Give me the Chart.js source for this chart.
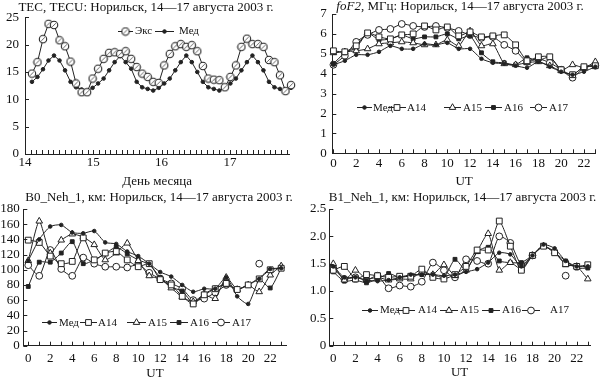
<!DOCTYPE html>
<html><head><meta charset="utf-8">
<script src="https://cdn.jsdelivr.net/npm/chart.js@4.4.1/dist/chart.umd.min.js"></script>
<style>
html,body{margin:0;padding:0;background:#fff;}
body{width:601px;height:382px;position:relative;overflow:hidden;}
canvas{position:absolute;display:block;}
</style></head><body>
<canvas id="c1" width="300" height="190" style="left:0;top:0"></canvas>
<canvas id="c2" width="301" height="190" style="left:300px;top:0"></canvas>
<canvas id="c3" width="300" height="192" style="left:0;top:190px"></canvas>
<canvas id="c4" width="301" height="192" style="left:300px;top:190px"></canvas>
<script>
// ---------- DATA ----------
const tecDayTicks = [14, 15, 16, 17];
const tecExc = [14.7,16.8,21.0,23.8,23.6,20.8,19.7,16.9,12.9,11.3,11.3,13.8,15.6,17.4,18.5,18.6,18.3,18.8,17.4,15.9,14.7,14.1,13.2,13.0,16.2,18.3,19.7,20.1,19.6,19.9,18.8,16.1,13.8,13.6,13.5,12.2,14.1,16.2,19.6,21.1,20.1,20.1,19.6,17.2,16.8,14.4,11.5,12.6];
const tecMed = [13.2,14.1,15.5,17.1,18.0,17.1,15.3,13.2,12.2,11.8,11.5,12.1,12.9,13.8,15.3,16.8,17.9,16.8,15.6,13.2,12.2,11.9,11.6,12.1,12.9,13.8,15.3,16.8,18.0,16.8,15.0,13.2,12.2,11.9,11.6,12.1,12.9,13.8,15.3,16.8,18.0,16.8,15.3,13.2,12.2,11.9,11.6,12.1];
const TEC_T0 = 14.102, TEC_DT = 0.0807; // sampling: start day and step (days)

const utHours = [0,1,2,3,4,5,6,7,8,9,10,11,12,13,14,15,16,17,18,19,20,21,22,23];
const utTickLabels = [0,2,4,6,8,10,12,14,16,18,20,22];
const seriesNames = ['Мед','A14','A15','A16','A17'];

const fof2Med = [4.45,4.65,4.95,4.95,5.1,5.4,5.25,5.25,5.5,5.45,5.55,5.25,5.25,4.75,4.55,4.5,4.4,4.3,4.6,4.35,4.1,3.95,4.1,4.35];
const fof2A14 = [5.15,5.1,5.4,6.05,5.85,5.75,5.95,6.0,6.4,6.2,6.35,5.9,6.1,5.85,5.9,5.95,5.45,4.65,4.85,4.85,4.2,3.95,4.35,4.4];
const fof2A15 = [5.05,5.1,5.15,5.25,5.5,5.55,5.6,5.55,5.45,5.45,5.7,5.4,6.15,5.4,5.5,4.5,4.45,4.55,4.6,4.4,4.15,4.45,4.3,4.6];
const fof2A16 = [4.5,5.05,5.3,6.05,5.7,5.75,5.95,5.75,5.85,5.85,6.0,5.75,5.9,5.05,4.6,4.55,4.45,4.8,4.65,4.85,4.15,3.95,4.35,4.4];
const fof2A17 = [4.45,4.9,5.6,5.95,6.2,6.25,6.5,6.4,6.35,6.4,6.3,6.15,5.95,5.8,5.85,5.45,5.15,4.6,4.75,4.55,4.2,3.8,4.3,4.4];

const b0Med = [112,140,157,159,149,148,151,136,134,124,118,108,97,91,80,71,75,75,90,65,55,88,101,102];
const b0A14 = [139,136,118,108,111,142,113,122,124,113,104,108,87,80,65,55,67,75,82,74,80,88,100,102];
const b0A15 = [112,164,122,139,147,143,133,113,122,135,112,92,88,76,64,58,67,62,90,74,80,71,93,105];
const b0A16 = [78,110,110,122,137,108,113,121,130,121,113,107,90,77,72,56,68,76,80,74,80,88,76,102];
const b0A17 = [106,92,126,101,92,116,108,104,104,103,107,96,88,82,75,60,62,70,80,null,null,108,null,null];

const b1Med = [1.45,1.25,1.25,1.2,1.18,1.2,1.25,1.3,1.3,1.3,1.28,1.3,1.35,1.4,1.52,1.7,1.67,1.45,1.65,1.85,1.78,1.55,1.45,1.45];
const b1A14 = [1.38,1.45,1.22,1.3,1.28,1.25,1.27,1.27,1.4,1.25,1.22,1.3,1.45,1.75,1.75,2.28,1.82,1.38,1.65,1.82,1.7,1.5,1.45,1.48];
const b1A15 = [1.5,1.2,1.38,1.22,1.25,1.2,1.22,1.22,1.35,1.3,1.48,1.28,1.38,1.72,2.05,1.38,1.52,1.4,1.65,1.82,1.72,1.48,1.45,1.22];
const b1A16 = [1.35,1.18,1.2,1.15,1.22,1.32,1.25,1.28,1.3,1.3,1.25,1.58,1.38,1.72,1.8,1.55,1.52,1.52,1.65,1.82,1.7,1.55,1.42,1.42];
const b1A17 = [1.42,1.22,1.25,1.2,1.28,1.05,1.1,1.08,1.17,1.52,1.38,1.25,1.58,1.55,1.5,2.0,1.88,1.48,1.65,null,null,1.28,null,null];

// ---------- STYLE ----------
const INK = '#222';
const TXT = '#111';
const FAM = "'Liberation Serif','Times New Roman',serif";
const tickFont = {family: FAM, size: 13};
const legendFont = "11px " + FAM;

function excMarker() {
  const c = document.createElement('canvas'); c.width = 10; c.height = 10;
  const g = c.getContext('2d');
  g.beginPath(); g.arc(5, 5, 3.7, 0, Math.PI * 2);
  g.fillStyle = '#fff'; g.fill(); g.lineWidth = 1.1; g.strokeStyle = INK; g.stroke();
  g.beginPath(); g.moveTo(3.2, 6.8); g.lineTo(6.8, 3.2); g.lineWidth = 0.9; g.strokeStyle = '#555'; g.stroke();
  return c;
}
const EXC_PT = excMarker();

const markerStyles = [
  {pointStyle: 'circle', pointRadius: 1.8, pointBackgroundColor: INK},
  {pointStyle: 'rect', pointRadius: 4.1, pointBackgroundColor: '#fff'},
  {pointStyle: 'triangle', pointRadius: 3.8, pointBackgroundColor: '#fff'},
  {pointStyle: 'rect', pointRadius: 2.7, pointBackgroundColor: INK},
  {pointStyle: 'circle', pointRadius: 3.4, pointBackgroundColor: '#fff'}
];

function drawMarker(ctx, ds, x, y) {
  const st = ds.pointStyle, r = ds.pointRadius;
  if (st instanceof HTMLCanvasElement) { ctx.drawImage(st, x - st.width / 2, y - st.height / 2); return; }
  ctx.beginPath();
  if (st === 'circle') ctx.arc(x, y, r, 0, Math.PI * 2);
  else if (st === 'rect') { const s = r * Math.SQRT1_2; ctx.rect(x - s, y - s, 2 * s, 2 * s); }
  else if (st === 'triangle') { ctx.moveTo(x, y - r); ctx.lineTo(x + r * 0.866, y + r / 2); ctx.lineTo(x - r * 0.866, y + r / 2); ctx.closePath(); }
  ctx.fillStyle = ds.pointBackgroundColor; ctx.fill();
  ctx.lineWidth = ds.pointBorderWidth || 1; ctx.strokeStyle = ds.pointBorderColor || INK; ctx.stroke();
}

// ---------- PLUGINS ----------
function titlePlugin(parts, cx, y) {
  return {
    id: 'panelTitle',
    afterDraw(chart) {
      const ctx = chart.ctx; ctx.save(); ctx.fillStyle = TXT; ctx.textBaseline = 'middle'; ctx.textAlign = 'left';
      const widths = parts.map(p => { ctx.font = p.font; return ctx.measureText(p.text).width; });
      let x = cx - widths.reduce((a, b) => a + b, 0) / 2;
      parts.forEach((p, i) => { ctx.font = p.font; ctx.fillText(p.text, x, y); x += widths[i]; });
      ctx.restore();
    }
  };
}
function inTicksPlugin(len) {
  return {
    id: 'inTicks',
    afterDraw(chart) {
      const ctx = chart.ctx, a = chart.chartArea, xs = chart.scales.x, ys = chart.scales.y;
      ctx.save(); ctx.strokeStyle = INK; ctx.lineWidth = 1; ctx.beginPath();
      xs.ticks.forEach(t => { const p = Math.round(xs.getPixelForValue(t.value)) + 0.5; ctx.moveTo(p, a.bottom); ctx.lineTo(p, a.bottom - len); });
      ys.ticks.forEach(t => { const p = Math.round(ys.getPixelForValue(t.value)) + 0.5; ctx.moveTo(a.left, p); ctx.lineTo(a.left + len, p); });
      ctx.stroke(); ctx.restore();
    }
  };
}
function legendPlugin(y, items) {
  return {
    id: 'inLegend',
    afterDraw(chart) {
      const ctx = chart.ctx; ctx.save();
      items.forEach(it => {
        const ds = chart.data.datasets[it.ds];
        ctx.strokeStyle = INK; ctx.lineWidth = 1;
        ctx.beginPath(); ctx.moveTo(it.x0, Math.round(y) + 0.5); ctx.lineTo(it.x1, Math.round(y) + 0.5); ctx.stroke();
        drawMarker(ctx, ds, (it.x0 + it.x1) / 2, Math.round(y) + 0.5);
        ctx.fillStyle = TXT; ctx.font = legendFont; ctx.textBaseline = 'middle'; ctx.textAlign = 'left';
        ctx.fillText(ds.label, it.tx, y + 0.5);
      });
      ctx.restore();
    }
  };
}

function yScale(min, max, step, width, pad, cb) {
  const ticks = {stepSize: step, padding: pad, font: tickFont, color: TXT, autoSkip: false};
  if (cb) ticks.callback = cb;
  return {
    min, max, ticks,
    grid: {display: false, drawTicks: false},
    border: {display: true, color: INK, width: 1},
    afterFit: s => { s.width = width; }
  };
}
function xUTScale(min, max, height, pad, tpad) {
  return {
    type: 'linear', min, max,
    afterBuildTicks: s => { s.ticks = utHours.map(v => ({value: v})); },
    ticks: {autoSkip: false, maxRotation: 0, padding: pad, font: tickFont, color: TXT,
      callback: v => utTickLabels.includes(v) ? String(v) : ''},
    grid: {display: false, drawTicks: false},
    border: {display: true, color: INK, width: 1},
    title: {display: true, text: 'UT', font: tickFont, color: TXT, padding: {top: 0, bottom: tpad}},
    afterFit: s => { s.height = height; }
  };
}
function utDatasets(arrs) {
  return arrs.map((arr, i) => Object.assign({
    label: seriesNames[i],
    data: arr.map((v, k) => ({x: utHours[k], y: v})),
    borderColor: INK, borderWidth: 1, pointBorderColor: INK, pointBorderWidth: 1,
    tension: 0.2, clip: false, spanGaps: false
  }, markerStyles[i]));
}
const baseOpts = {responsive: false, animation: false, devicePixelRatio: 1, events: [],
  plugins: {legend: {display: false}, tooltip: {enabled: false}, title: {display: false}}};

// ---------- PANEL 1: TEC ----------
const tecTickVals = [];
for (let k = 0; k * (1 / 12) <= 3.86; k++) tecTickVals.push(14 + k / 12);
new Chart(document.getElementById('c1'), {
  type: 'line',
  data: {datasets: [
    {label: 'Экс', data: tecExc.map((v, i) => ({x: TEC_T0 + i * TEC_DT, y: v})),
     borderColor: INK, borderWidth: 1, pointStyle: EXC_PT, pointRadius: 4, tension: 0, clip: false},
    {label: 'Мед', data: tecMed.map((v, i) => ({x: TEC_T0 + i * TEC_DT, y: v})),
     borderColor: INK, borderWidth: 1, pointStyle: 'circle', pointRadius: 1.8, pointBackgroundColor: INK,
     pointBorderColor: INK, pointBorderWidth: 1, tension: 0, clip: false}
  ]},
  options: Object.assign({}, baseOpts, {
    layout: {padding: {left: 0, top: 17.3, right: 10.7, bottom: 0}},
    scales: {
      x: {type: 'linear', min: 14, max: 17.87,
        afterBuildTicks: s => { s.ticks = tecTickVals.map(v => ({value: v})); },
        ticks: {autoSkip: false, maxRotation: 0, padding: 1.2, font: tickFont, color: TXT,
          callback: v => { const r = Math.round(v); return (Math.abs(v - r) < 1e-6 && tecDayTicks.includes(r)) ? String(r) : ''; }},
        grid: {display: false, drawTicks: false},
        border: {display: true, color: INK, width: 1},
        title: {display: true, text: 'День месяца', font: tickFont, color: TXT, padding: {top: 0, bottom: 0.5}},
        afterFit: s => { s.height = 36; }},
      y: yScale(0, 25, 5, 25, 6)
    }
  }),
  plugins: [
    titlePlugin([{text: 'TEC, TECU: Норильск, 14—17 августа 2003 г.', font: '13px ' + FAM}], 146, 7.3),
    inTicksPlugin(4),
    legendPlugin(31, [{ds: 0, x0: 118, x1: 133, tx: 135}, {ds: 1, x0: 155, x1: 174, tx: 179}])
  ]
});

// ---------- PANEL 2: foF2 ----------
new Chart(document.getElementById('c2'), {
  type: 'line',
  data: {datasets: utDatasets([fof2Med, fof2A14, fof2A15, fof2A16, fof2A17])},
  options: Object.assign({}, baseOpts, {
    layout: {padding: {left: 0, top: 14, right: 2.7, bottom: 0}},
    scales: {x: xUTScale(-0.1, 23.05, 36.7, 2.2, 0.5), y: yScale(0, 7, 1, 32.3, 5.5)}
  }),
  plugins: [
    titlePlugin([{text: 'foF2', font: 'italic 13px ' + FAM}, {text: ', МГц: Норильск, 14—17 августа 2003 г.', font: '13px ' + FAM}], 160, 6.7),
    inTicksPlugin(4),
    legendPlugin(107.3, [
      {ds: 0, x0: 57, x1: 72, tx: 73}, {ds: 1, x0: 88, x1: 106, tx: 107},
      {ds: 2, x0: 144, x1: 161, tx: 163}, {ds: 3, x0: 185, x1: 202, tx: 204},
      {ds: 4, x0: 230, x1: 247, tx: 249}])
  ]
});

// ---------- PANEL 3: B0 ----------
new Chart(document.getElementById('c3'), {
  type: 'line',
  data: {datasets: utDatasets([b0Med, b0A14, b0A15, b0A16, b0A17])},
  options: Object.assign({}, baseOpts, {
    layout: {padding: {left: 0, top: 19, right: 13.3, bottom: 0}},
    scales: {x: xUTScale(-0.45, 23.5, 36.3, 4.8, 0.9), y: yScale(0, 180, 20, 23.3, 3.5)}
  }),
  plugins: [
    titlePlugin([{text: 'B0_Neh_1, км: Норильск, 14—17 августа 2003 г.', font: '13px ' + FAM}], 159, 7.3),
    inTicksPlugin(4),
    legendPlugin(132.3, [
      {ds: 0, x0: 42, x1: 57, tx: 59}, {ds: 1, x0: 80, x1: 97, tx: 98},
      {ds: 2, x0: 127, x1: 146, tx: 148}, {ds: 3, x0: 170, x1: 188, tx: 190},
      {ds: 4, x0: 212, x1: 230, tx: 232}])
  ]
});

// ---------- PANEL 4: B1 ----------
new Chart(document.getElementById('c4'), {
  type: 'line',
  data: {datasets: utDatasets([b1Med, b1A14, b1A15, b1A16, b1A17])},
  options: Object.assign({}, baseOpts, {
    layout: {padding: {left: 0, top: 19, right: 11, bottom: 0}},
    scales: {x: xUTScale(-0.36, 23.2, 36.3, 4.8, 1.5),
      y: yScale(0, 2.5, 0.5, 29.3, 3, v => v === 0 ? '0' : v.toFixed(1))}
  }),
  plugins: [
    titlePlugin([{text: 'B1_Neh_1, км: Норильск, 14—17 августа 2003 г.', font: '13px ' + FAM}], 162.5, 7.3),
    inTicksPlugin(4),
    legendPlugin(120, [
      {ds: 0, x0: 62, x1: 78, tx: 80}, {ds: 1, x0: 97, x1: 115, tx: 118},
      {ds: 2, x0: 140, x1: 158, tx: 160}, {ds: 3, x0: 182, x1: 200, tx: 202},
      {ds: 4, x0: 222, x1: 240, tx: 250}])
  ]
});
</script>
</body></html>
